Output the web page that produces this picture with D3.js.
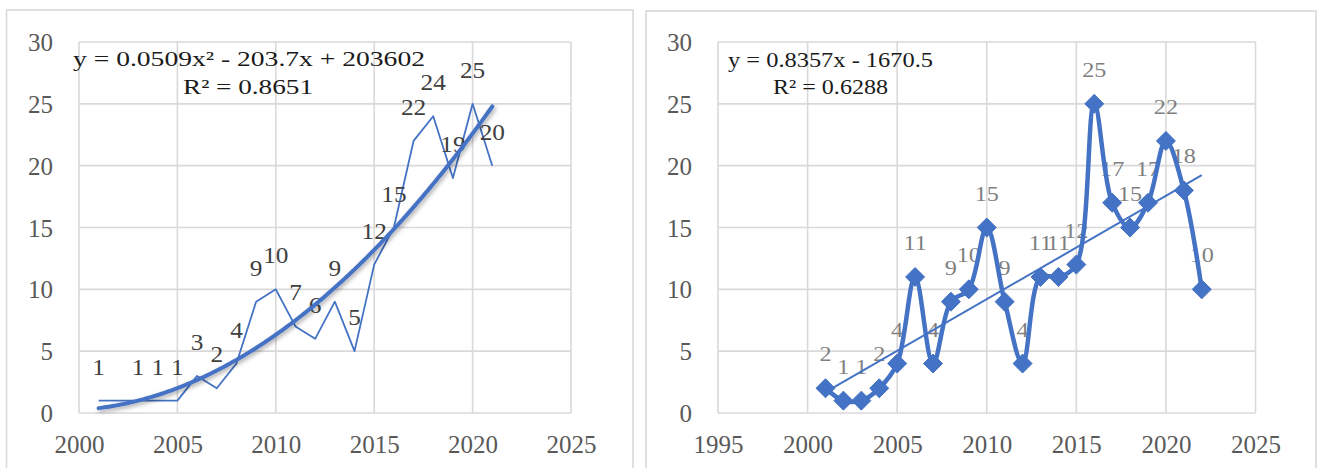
<!DOCTYPE html>
<html>
<head>
<meta charset="utf-8">
<script src="https://cdn.jsdelivr.net/npm/d3@7/dist/d3.min.js"></script>
<style>
  html, body { margin: 0; padding: 0; background: #fff; }
  svg { display: block; }
  text { font-family: "Liberation Serif", "Times New Roman", serif; }
</style>
</head>
<body>
<svg id="chart" width="1322" height="468"></svg>
<script>
// Publications per year (left panel) — no record for 2002
const leftYears  = [2001, 2003, 2004, 2005, 2006, 2007, 2008, 2009, 2010, 2011,
                    2012, 2013, 2014, 2015, 2016, 2017, 2018, 2019, 2020, 2021];
const leftCounts = [1, 1, 1, 1, 3, 2, 4, 9, 10, 7, 6, 9, 5, 12, 15, 22, 24, 19, 25, 20];

// Publications per year (right panel)
const rightYears  = [2001, 2002, 2003, 2004, 2005, 2006, 2007, 2008, 2009, 2010, 2011,
                     2012, 2013, 2014, 2015, 2016, 2017, 2018, 2019, 2020, 2021, 2022];
const rightCounts = [2, 1, 1, 2, 4, 11, 4, 9, 10, 15, 9, 4, 11, 11, 12, 25, 17, 15, 17, 22, 18, 10];

// Axis ticks
const yTicks      = [0, 5, 10, 15, 20, 25, 30];
const leftXTicks  = [2000, 2005, 2010, 2015, 2020, 2025];
const rightXTicks = [1995, 2000, 2005, 2010, 2015, 2020, 2025];

// Trendline labels
const leftEquation  = ["y = 0.0509x² - 203.7x + 203602", "R² = 0.8651"];
const rightEquation = ["y = 0.8357x - 1670.5", "R² = 0.6288"];

const BLUE = "#4472C4";
const GRID = "#d9d9d9";

const svg = d3.select("#chart");

const defs = svg.append("defs");
const shadow = defs.append("filter").attr("id", "trendShadow")
  .attr("x", "-10%").attr("y", "-10%").attr("width", "120%").attr("height", "120%");
shadow.append("feDropShadow")
  .attr("dx", 1.5).attr("dy", 2).attr("stdDeviation", 2.2)
  .attr("flood-color", "#000").attr("flood-opacity", 0.35);

// Least squares polynomial fit (degree 1 or 2), x centred for stability
function polyFit(xs, ys, degree) {
  const x0 = d3.mean(xs);
  const n = degree + 1;
  const A = Array.from({length: n}, () => new Array(n).fill(0));
  const b = new Array(n).fill(0);
  xs.forEach((x, i) => {
    const t = x - x0;
    for (let r = 0; r < n; r++) {
      b[r] += ys[i] * Math.pow(t, r);
      for (let c = 0; c < n; c++) A[r][c] += Math.pow(t, r + c);
    }
  });
  // Gaussian elimination
  for (let i = 0; i < n; i++) {
    for (let k = i + 1; k < n; k++) {
      const f = A[k][i] / A[i][i];
      for (let j = i; j < n; j++) A[k][j] -= f * A[i][j];
      b[k] -= f * b[i];
    }
  }
  const coef = new Array(n).fill(0);
  for (let i = n - 1; i >= 0; i--) {
    let s = b[i];
    for (let j = i + 1; j < n; j++) s -= A[i][j] * coef[j];
    coef[i] = s / A[i][i];
  }
  return x => coef.reduce((acc, c, p) => acc + c * Math.pow(x - x0, p), 0);
}

// Text with a slight horizontal stretch
function stretchedText(g, x, y, str, opts) {
  return g.append("text")
    .attr("transform", `translate(${x},${y}) scale(${opts.sx || 1},1)`)
    .attr("text-anchor", opts.anchor || "middle")
    .attr("font-size", opts.size)
    .attr("fill", opts.fill)
    .text(str);
}

function panelFrame(x, y, w, h) {
  svg.append("rect")
    .attr("x", x).attr("y", y).attr("width", w).attr("height", h)
    .attr("fill", "#fff").attr("stroke", GRID).attr("stroke-width", 1.6);
}

function drawGrid(g, x, y) {
  g.append("g").selectAll("line").data(yTicks)
    .join("line")
    .attr("x1", x.range()[0]).attr("x2", x.range()[1])
    .attr("y1", d => y(d)).attr("y2", d => y(d))
    .attr("stroke", GRID).attr("stroke-width", 1.6);
  g.append("g").selectAll("line").data(x.ticks(6))
    .join("line")
    .attr("x1", d => x(d)).attr("x2", d => x(d))
    .attr("y1", y.range()[0]).attr("y2", y.range()[1])
    .attr("stroke", GRID).attr("stroke-width", 1.6);
}

function drawAxes(g, x, y, xTicks) {
  const yAxis = g.append("g")
    .attr("transform", `translate(${x.range()[0]},0)`)
    .call(d3.axisLeft(y).tickValues(yTicks).tickSize(0).tickPadding(26));
  const xAxis = g.append("g")
    .attr("transform", `translate(0,${y.range()[0]})`)
    .call(d3.axisBottom(x).tickValues(xTicks).tickFormat(d3.format("d")).tickSize(0).tickPadding(22));
  [yAxis, xAxis].forEach(a => {
    a.select(".domain").remove();
    a.selectAll("text")
      .attr("font-family", "'Liberation Serif', 'Times New Roman', serif")
      .attr("font-size", 25)
      .attr("fill", "#595959");
  });
  yAxis.selectAll("text").attr("dy", "0.34em");
  xAxis.selectAll("text").attr("dy", "0.71em");
}

// ---------- Left panel ----------
panelFrame(6.5, 10, 626.5, 470);
{
  const g = svg.append("g");
  const x = d3.scaleLinear().domain([2000, 2025]).range([79, 571]);
  const y = d3.scaleLinear().domain([0, 30]).range([413, 42]);
  drawGrid(g, x, y);
  drawAxes(g, x, y, leftXTicks);

  const pts = leftYears.map((yr, i) => [yr, leftCounts[i]]);

  g.append("path")
    .datum(pts)
    .attr("fill", "none")
    .attr("stroke", BLUE)
    .attr("stroke-width", 1.8)
    .attr("stroke-linejoin", "round")
    .attr("d", d3.line().x(d => x(d[0])).y(d => y(d[1])));

  const lbl = g.append("g");
  pts.forEach(d => {
    stretchedText(lbl, x(d[0]), y(d[1]) - 26, d[1], {size: 23, fill: "#404040", sx: 1.1});
  });

  const fit = polyFit(leftYears, leftCounts, 2);
  const xs = d3.range(2001, 2021.001, 0.1);
  g.append("path")
    .datum(xs)
    .attr("fill", "none")
    .attr("stroke", BLUE)
    .attr("stroke-width", 4)
    .attr("stroke-linecap", "round")
    .attr("filter", "url(#trendShadow)")
    .attr("d", d3.line().x(d => x(d)).y(d => y(fit(d))));

  g.append("text").attr("x", 73).attr("y", 66)
    .attr("font-size", 22).attr("fill", "#1a1a1a")
    .attr("textLength", 352).attr("lengthAdjust", "spacingAndGlyphs")
    .text(leftEquation[0]);
  g.append("text").attr("x", 183).attr("y", 94)
    .attr("font-size", 22).attr("fill", "#1a1a1a")
    .attr("textLength", 130).attr("lengthAdjust", "spacingAndGlyphs")
    .text(leftEquation[1]);
}

// ---------- Right panel ----------
panelFrame(646, 11, 670, 470);
{
  const g = svg.append("g");
  const x = d3.scaleLinear().domain([1995, 2025]).range([718, 1255.5]);
  const y = d3.scaleLinear().domain([0, 30]).range([413, 42]);
  drawGrid(g, x, y);
  drawAxes(g, x, y, rightXTicks);

  const pts = rightYears.map((yr, i) => [yr, rightCounts[i]]);

  const lbl = g.append("g");
  pts.forEach(d => {
    stretchedText(lbl, x(d[0]), y(d[1]) - 27, d[1], {size: 22, fill: "#7f7f7f", sx: 1.1});
  });

  const fit = polyFit(rightYears, rightCounts, 1);
  const ends = [rightYears[0], rightYears[rightYears.length - 1]];
  g.append("line")
    .attr("x1", x(ends[0])).attr("y1", y(fit(ends[0])))
    .attr("x2", x(ends[1])).attr("y2", y(fit(ends[1])))
    .attr("stroke", BLUE).attr("stroke-width", 2);

  g.append("path")
    .datum(pts)
    .attr("fill", "none")
    .attr("stroke", BLUE)
    .attr("stroke-width", 4.5)
    .attr("stroke-linejoin", "round")
    .attr("d", d3.line().x(d => x(d[0])).y(d => y(d[1])).curve(d3.curveCatmullRom.alpha(0.5)));

  const diamond = d3.symbol().type(d3.symbolDiamond2).size(230);
  g.append("g").selectAll("path").data(pts).join("path")
    .attr("transform", d => `translate(${x(d[0])},${y(d[1])})`)
    .attr("d", diamond)
    .attr("fill", BLUE)
    .attr("stroke", BLUE)
    .attr("stroke-width", 1);

  g.append("text").attr("x", 728).attr("y", 67)
    .attr("font-size", 22).attr("fill", "#1a1a1a")
    .attr("textLength", 205).attr("lengthAdjust", "spacingAndGlyphs")
    .text(rightEquation[0]);
  g.append("text").attr("x", 773).attr("y", 94)
    .attr("font-size", 22).attr("fill", "#1a1a1a")
    .attr("textLength", 115).attr("lengthAdjust", "spacingAndGlyphs")
    .text(rightEquation[1]);
}
</script>
</body>
</html>
